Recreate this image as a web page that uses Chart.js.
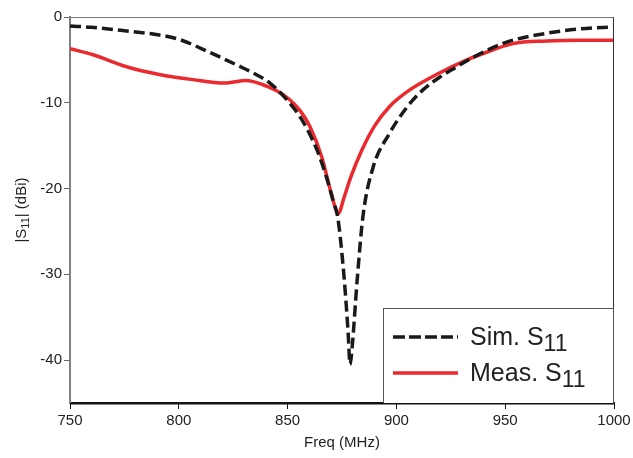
<!DOCTYPE html>
<html>
<head>
<meta charset="utf-8">
<script src="https://cdn.jsdelivr.net/npm/chart.js@4"></script>
<style>
  body { margin: 0; background: #fff; }
  #wrap { width: 633px; height: 458px; position: relative; }
</style>
</head>
<body>
<div id="wrap"><canvas id="s11Chart"></canvas></div>
<script>
// simulated S11
const simFreq = [750, 760, 775, 791, 800, 814, 826.7, 834, 841.9, 848.8, 856.6, 863.5, 868, 871, 873, 875.5, 877.8, 878.7, 879.6, 881.9, 884.6, 889.2, 897, 904.9, 912.2, 920, 927.8, 936, 944, 953.6, 969, 984, 1000];
const simDb = [-1.05, -1.2, -1.6, -2.1, -2.6, -4.1, -5.6, -6.5, -7.7, -9.4, -12, -15.5, -18.8, -21.5, -23.3, -29, -36.7, -40.5, -38.7, -30.9, -23.3, -17.6, -13.5, -10.5, -8.5, -7, -5.8, -4.6, -3.6, -2.7, -1.9, -1.4, -1.15];

// measured S11
const measFreq = [750, 760.6, 776, 791, 806.5, 821, 831, 838.7, 845, 851, 856, 860.3, 865.8, 870, 873.3, 876, 879, 884, 890, 897, 905, 920, 932.4, 938.4, 953.6, 969, 984, 1000];
const measDb = [-3.7, -4.4, -5.8, -6.7, -7.3, -7.7, -7.4, -7.9, -8.6, -9.65, -11, -12.8, -16.4, -20.5, -22.9, -21, -18.7, -15.6, -12.7, -10.4, -8.7, -6.5, -5.0, -4.4, -3.1, -2.8, -2.7, -2.7];

const xTicks = [750, 800, 850, 900, 950, 1000];
const yTicks = [0, -10, -20, -30, -40];

const simColour = '#1a1a1a';
const measColour = '#ea2a2e';
const fontFamily = '"Liberation Sans", Arial, sans-serif';

const toPoints = (xs, ys) => xs.map((x, i) => ({ x, y: ys[i] }));

// draws "base" then "sub" as a lowered subscript
function drawSub(ctx, base, sub, x, y, size, subSize, drop) {
    ctx.font = `${size}px ${fontFamily}`;
    ctx.fillText(base, x, y);
    const w = ctx.measureText(base).width;
    ctx.font = `${subSize}px ${fontFamily}`;
    ctx.fillText(sub, x + w, y + drop);
}

const framePlugin = {
    id: 'framePlugin',
    afterDraw: (chart) => {
        const ctx = chart.ctx;
        const a = chart.chartArea;
        ctx.save();

        // top and right frame lines
        ctx.strokeStyle = '#777';
        ctx.lineWidth = 1;
        ctx.beginPath();
        ctx.moveTo(a.left, a.top + 0.5);
        ctx.lineTo(a.right, a.top + 0.5);
        ctx.stroke();
        ctx.strokeStyle = '#333';
        ctx.beginPath();
        ctx.moveTo(a.right - 0.5, a.top);
        ctx.lineTo(a.right - 0.5, a.bottom);
        ctx.stroke();

        // legend box
        const lx = 383, ly = 308, lw = a.right - 383, lh = a.bottom - 308;
        ctx.fillStyle = '#fff';
        ctx.fillRect(lx, ly, lw, lh);
        ctx.strokeStyle = '#555';
        ctx.strokeRect(lx + 0.5, ly + 0.5, lw - 1, lh);

        // bottom axis line again, over the legend box
        ctx.strokeStyle = '#111';
        ctx.lineWidth = 1.5;
        ctx.beginPath();
        ctx.moveTo(a.left, a.bottom + 0.75);
        ctx.lineTo(a.right, a.bottom + 0.75);
        ctx.stroke();

        ctx.lineWidth = 3.5;
        ctx.setLineDash([12, 4]);
        ctx.strokeStyle = simColour;
        ctx.beginPath();
        ctx.moveTo(393, 337);
        ctx.lineTo(458, 337);
        ctx.stroke();
        ctx.setLineDash([]);
        ctx.strokeStyle = measColour;
        ctx.beginPath();
        ctx.moveTo(393, 373);
        ctx.lineTo(458, 373);
        ctx.stroke();

        ctx.fillStyle = '#222';
        ctx.textAlign = 'left';
        ctx.textBaseline = 'alphabetic';
        drawSub(ctx, 'Sim. S', '11', 470, 345, 25, 23, 6);
        drawSub(ctx, 'Meas. S', '11', 470, 381, 25, 23, 6);

        // axis titles
        ctx.font = `15px ${fontFamily}`;
        ctx.textAlign = 'center';
        ctx.fillText('Freq (MHz)', (a.left + a.right) / 2, 447);

        ctx.translate(26, 210);
        ctx.rotate(-Math.PI / 2);
        ctx.textAlign = 'left';
        const parts = [['|S', 15, 0], ['11', 11, 3], ['| (dBi)', 15, 0]];
        let total = 0;
        parts.forEach(p => {
            ctx.font = `${p[1]}px ${fontFamily}`;
            total += ctx.measureText(p[0]).width;
        });
        let px = -total / 2;
        parts.forEach(p => {
            ctx.font = `${p[1]}px ${fontFamily}`;
            ctx.fillText(p[0], px, p[2]);
            px += ctx.measureText(p[0]).width;
        });
        ctx.restore();
    }
};

const ctx = document.getElementById('s11Chart').getContext('2d');
new Chart(ctx, {
    type: 'line',
    data: {
        datasets: [
            {
                label: 'Sim. S11',
                data: toPoints(simFreq, simDb),
                borderColor: simColour,
                borderWidth: 3.5,
                borderDash: [11, 5],
                pointRadius: 0,
                cubicInterpolationMode: 'monotone',
                fill: false,
            },
            {
                label: 'Meas. S11',
                data: toPoints(measFreq, measDb),
                borderColor: measColour,
                borderWidth: 3.5,
                pointRadius: 0,
                cubicInterpolationMode: 'monotone',
                fill: false,
            }
        ]
    },
    options: {
        responsive: true,
        maintainAspectRatio: false,
        animation: false,
        layout: { padding: { top: 17, right: 19, left: 0, bottom: 0 } },
        scales: {
            x: {
                type: 'linear',
                min: 750,
                max: 1000,
                afterFit: (s) => { s.height = 55; s.paddingLeft = 0; s.paddingRight = 0; },
                afterBuildTicks: (s) => { s.ticks = xTicks.map(v => ({ value: v })); },
                ticks: { color: '#222', font: { size: 15, family: fontFamily }, padding: 3, maxRotation: 0, callback: (v) => String(v) },
                grid: { drawOnChartArea: false, drawTicks: true, tickLength: 6, color: '#111', lineWidth: 1 },
                border: { color: '#111', width: 1.5 },
            },
            y: {
                type: 'linear',
                min: -45,
                max: 0,
                afterFit: (s) => { s.width = 70; s.paddingTop = 0; s.paddingBottom = 0; },
                afterBuildTicks: (s) => { s.ticks = yTicks.map(v => ({ value: v })); },
                ticks: { color: '#222', font: { size: 15, family: fontFamily }, padding: 2, callback: (v) => String(v) },
                grid: { drawOnChartArea: false, drawTicks: true, tickLength: 6, color: '#666', lineWidth: 1 },
                border: { color: '#808080', width: 2 },
            }
        },
        plugins: {
            legend: { display: false },
            tooltip: { enabled: false },
        }
    },
    plugins: [framePlugin]
});
</script>
</body>
</html>
